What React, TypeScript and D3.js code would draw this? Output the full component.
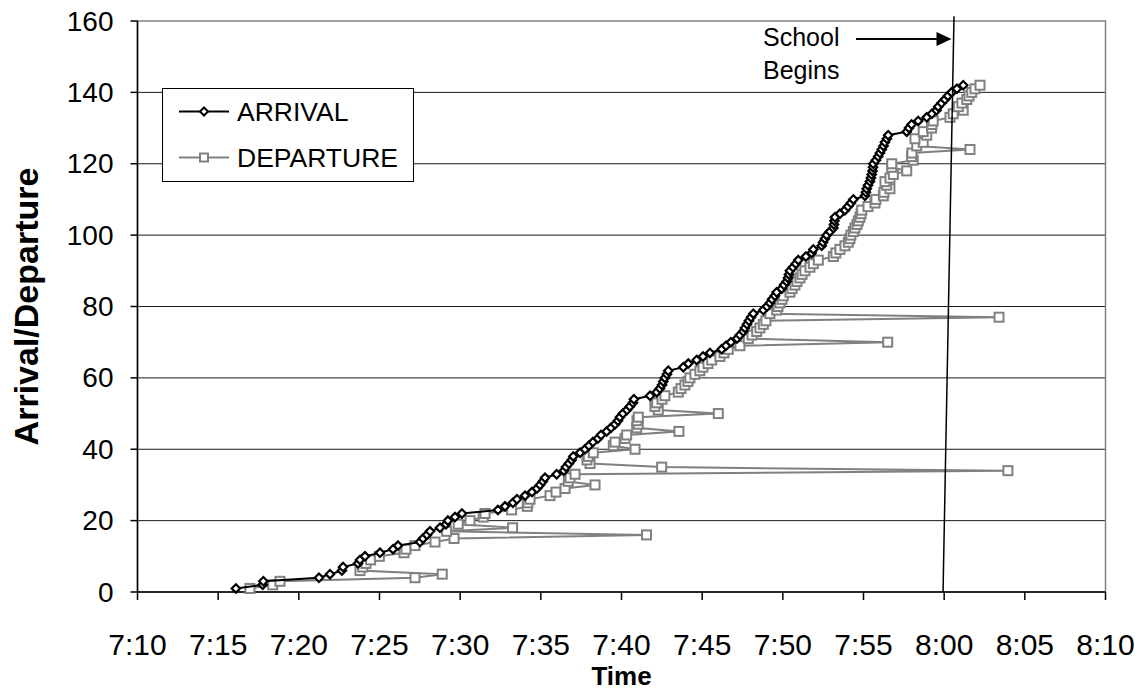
import React from "react";
import * as d3 from "d3";

// minutes after 7:00
const arrivalTimes = [
  16.1, 17.76, 17.8, 21.25, 21.93, 22.67, 22.74, 23.67, 23.79, 24.1,
  25.03, 25.84, 26.15, 27.51, 27.7, 27.94, 28.13, 28.75, 29.12, 29.24,
  29.68, 30.11, 32.34, 32.78, 33.27, 33.52, 34.02, 34.45, 34.76, 34.95,
  35.13, 35.26, 35.98, 36.43, 36.56, 36.74, 36.91, 37.01, 37.43, 37.74,
  37.98, 38.23, 38.54, 38.73, 39.08, 39.35, 39.6, 39.78, 39.9, 40.09,
  40.34, 40.52, 40.71, 40.77, 41.77, 42.18, 42.38, 42.51, 42.59, 42.69,
  42.82, 42.9, 43.83, 44.14, 44.66, 45.05, 45.48, 46.21, 46.48, 46.78,
  47.16, 47.34, 47.55, 47.65, 47.78, 47.9, 48.03, 48.17, 48.79, 49.02,
  49.2, 49.33, 49.51, 49.62, 49.93, 50.07, 50.24, 50.32, 50.38, 50.44,
  50.63, 50.81, 50.96, 51.43, 51.79, 51.89, 52.41, 52.49, 52.61, 52.72,
  52.92, 53.13, 53.17, 53.2, 53.23, 53.54, 53.85, 54.04, 54.22, 54.37,
  55.09, 55.15, 55.2, 55.28, 55.4, 55.46, 55.51, 55.56, 55.59, 55.61,
  55.77, 55.91, 56.02, 56.13, 56.24, 56.33, 56.45, 56.53, 57.68, 57.82,
  57.98, 58.39, 58.92, 59.24, 59.53, 59.63, 59.84, 60.05, 60.23, 60.46,
  60.79, 61.18,
];

const departureTimes = [
  16.97, 18.38, 18.83, 27.2, 28.89, 23.79, 23.96, 24.16, 24.45, 24.99,
  26.52, 26.64, 27.2, 28.44, 29.62, 41.55, 29.16, 33.25, 29.88, 30.61,
  31.43, 31.54, 33.19, 34.16, 34.2, 34.33, 35.57, 35.94, 36.5, 38.36,
  36.7, 36.81, 37.12, 63.95, 42.49, 38.05, 37.86, 37.94, 38.25, 40.84,
  39.49, 39.6, 40.22, 40.32, 43.56, 40.94, 41.04, 40.96, 41.04, 46.0,
  42.28, 42.07, 42.18, 42.51, 42.69, 43.52, 43.69, 43.93, 44.12, 44.24,
  44.55, 44.86, 45.05, 45.36, 45.59, 46.1, 46.35, 46.62, 47.34, 56.5,
  47.86, 48.09, 48.38, 48.58, 48.79, 48.95, 63.4, 49.2, 49.62, 49.7,
  49.82, 49.95, 50.03, 50.44, 50.57, 50.75, 50.88, 51.06, 51.19, 51.37,
  51.68, 51.89, 52.2, 53.13, 53.29, 53.54, 53.85, 54.06, 54.16, 54.22,
  54.37, 54.47, 54.6, 54.68, 54.78, 54.85, 54.89, 55.28, 55.71, 55.77,
  56.23, 56.27, 56.64, 56.44, 56.33, 56.64, 56.85, 57.68, 56.75, 56.75,
  58.08, 57.98, 58.0, 61.6, 58.3, 58.7, 58.19, 58.92, 58.7, 59.22,
  59.24, 59.32, 60.36, 60.56, 61.18, 60.88, 61.1, 61.4, 61.54, 61.71,
  61.91, 62.22,
];

const xTickMinutes = [10, 15, 20, 25, 30, 35, 40, 45, 50, 55, 60, 65, 70];
const yTickValues = [0, 20, 40, 60, 80, 100, 120, 140, 160];
const seriesNames = ["ARRIVAL", "DEPARTURE"];
const schoolLine = [
  { t: 59.93, v: 0 },
  { t: 60.61, v: 161.3 },
];

const W = 1143;
const H = 692;
const FONT = "Arial, 'Liberation Sans', sans-serif";

function fmtTime(m: number) {
  const h = 7 + Math.floor(m / 60);
  const mm = m % 60;
  return `${h}:${mm < 10 ? "0" + mm : mm}`;
}

export default function App() {
  const x = d3.scaleLinear().domain([10, 70]).range([137.5, 1105.5]);
  const y = d3.scaleLinear().domain([0, 160]).range([592, 21]);

  const arrival = arrivalTimes.map((t, i) => ({ t, v: i + 1 }));
  const departure = departureTimes.map((t, i) => ({ t, v: i + 1 }));

  const line = d3
    .line<{ t: number; v: number }>()
    .x((d) => x(d.t))
    .y((d) => y(d.v));

  const diamond = (cx: number, cy: number, r: number) =>
    `M${cx},${cy - r}L${cx + r},${cy}L${cx},${cy + r}L${cx - r},${cy}Z`;

  const left = x(10);
  const right = x(70);
  const top = y(160);
  const bottom = y(0);

  const sx0 = x(schoolLine[0].t);
  const sy0 = y(schoolLine[0].v);
  const sx1 = x(schoolLine[1].t);
  const sy1 = y(schoolLine[1].v);

  const arrowY = 39;
  const arrowTipX = 951.5;

  return (
    <svg
      width={W}
      height={H}
      style={{ position: "absolute", left: 0, top: 0, background: "#fff" }}
      fontFamily={FONT}
    >
      <rect x={0} y={0} width={W} height={H} fill="#fff" />
      {yTickValues
        .filter((v) => v > 0 && v < 160)
        .map((v) => (
          <line
            key={"g" + v}
            x1={left}
            x2={right}
            y1={y(v)}
            y2={y(v)}
            stroke="#1a1a1a"
            strokeWidth={1}
          />
        ))}
      <rect
        x={left}
        y={top}
        width={right - left}
        height={bottom - top}
        fill="none"
        stroke="#808080"
        strokeWidth={1.5}
      />
      <line x1={left} x2={left} y1={top} y2={bottom} stroke="#000" strokeWidth={1.5} />
      <line x1={left} x2={right} y1={bottom} y2={bottom} stroke="#000" strokeWidth={1.5} />
      {yTickValues.map((v) => (
        <g key={"yt" + v}>
          <line x1={left - 7} x2={left} y1={y(v)} y2={y(v)} stroke="#000" strokeWidth={1.5} />
          <text
            x={left - 24}
            y={y(v)}
            textAnchor="end"
            dominantBaseline="central"
            fontSize={28}
          >
            {v}
          </text>
        </g>
      ))}
      {xTickMinutes.map((m) => (
        <g key={"xt" + m}>
          <line x1={x(m)} x2={x(m)} y1={bottom} y2={bottom + 8} stroke="#000" strokeWidth={1.5} />
          <text x={x(m)} y={655} textAnchor="middle" fontSize={30}>
            {fmtTime(m)}
          </text>
        </g>
      ))}
      <text
        x={(left + right) / 2}
        y={685}
        textAnchor="middle"
        fontSize={26}
        fontWeight="bold"
      >
        Time
      </text>
      <text
        transform={`translate(38,${(top + bottom) / 2}) rotate(-90)`}
        textAnchor="middle"
        fontSize={34}
        fontWeight="bold"
      >
        Arrival/Departure
      </text>

      <path d={line(departure) || ""} fill="none" stroke="#808080" strokeWidth={2} />
      {departure.map((d, i) => (
        <rect
          key={"d" + i}
          x={x(d.t) - 4.5}
          y={y(d.v) - 4.5}
          width={9}
          height={9}
          fill="#fff"
          stroke="#808080"
          strokeWidth={2}
        />
      ))}
      <path d={line(arrival) || ""} fill="none" stroke="#000" strokeWidth={2} />
      {arrival.map((d, i) => (
        <path
          key={"a" + i}
          d={diamond(x(d.t), y(d.v), 4.2)}
          fill="#fff"
          stroke="#000"
          strokeWidth={2.2}
        />
      ))}

      <line x1={sx0} y1={sy0} x2={sx1} y2={sy1} stroke="#000" strokeWidth={1.5} />
      <line x1={856} x2={arrowTipX - 14} y1={arrowY} y2={arrowY} stroke="#000" strokeWidth={2} />
      <path
        d={`M${arrowTipX},${arrowY}L${arrowTipX - 15},${arrowY - 7}L${arrowTipX - 15},${arrowY + 7}Z`}
        fill="#000"
      />
      <text x={763} y={46} fontSize={25}>
        School
      </text>
      <text x={763} y={79} fontSize={25}>
        Begins
      </text>

      <rect x={162.5} y={88.5} width={251} height={93} fill="#fff" stroke="#000" strokeWidth={1} />
      <line x1={179} x2={229} y1={111.5} y2={111.5} stroke="#000" strokeWidth={2} />
      <path d={diamond(204, 111.5, 4)} fill="#fff" stroke="#000" strokeWidth={2} />
      <text x={237} y={111.5} dominantBaseline="central" fontSize={26.5}>
        {seriesNames[0]}
      </text>
      <line x1={179} x2={229} y1={157.5} y2={157.5} stroke="#808080" strokeWidth={2} />
      <rect x={200} y={153.5} width={8} height={8} fill="#fff" stroke="#808080" strokeWidth={2} />
      <text x={237} y={157.5} dominantBaseline="central" fontSize={26.5}>
        {seriesNames[1]}
      </text>
    </svg>
  );
}
